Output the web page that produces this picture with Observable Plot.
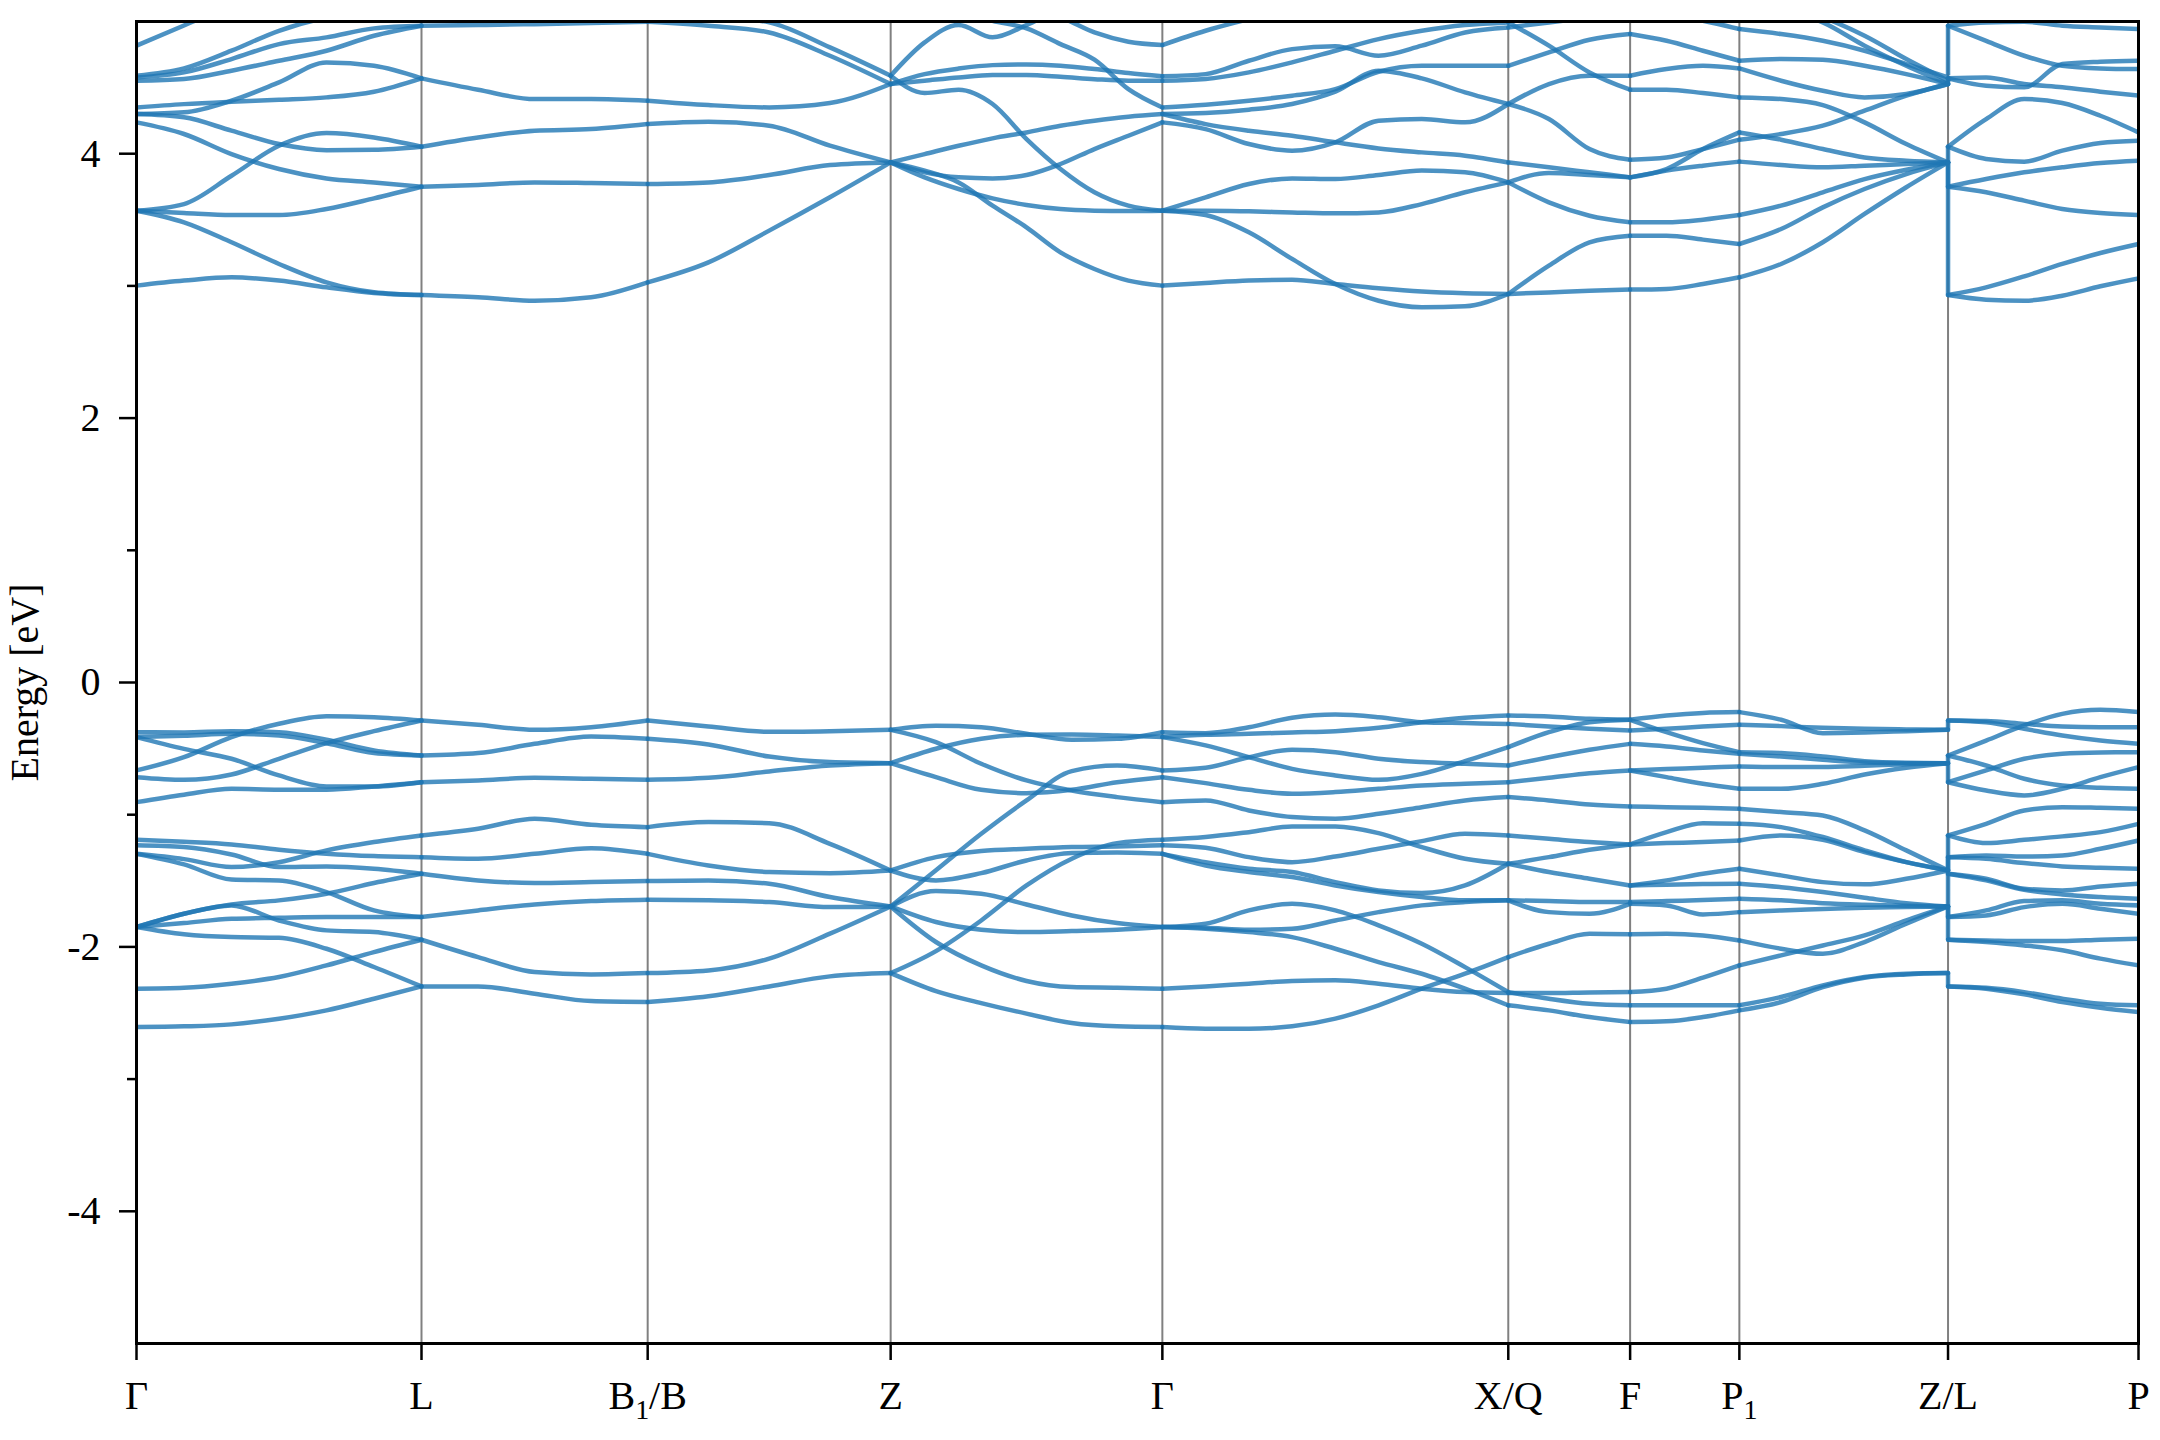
<!DOCTYPE html>
<html>
<head>
<meta charset="utf-8">
<script src="https://cdn.jsdelivr.net/npm/d3@7"></script>
<script src="https://cdn.jsdelivr.net/npm/@observablehq/plot@0.6"></script>
<style>
  html, body { margin: 0; padding: 0; background: #fff; }
  #chart svg { display: block; }
  #chart svg text { font-family: 'Liberation Serif', 'Times New Roman', Times, serif !important; font-variant: normal !important; }
</style>
</head>
<body>
<div id="chart"></div>
<script>
// High-symmetry points of the k-path (path distance) and their labels
const kLabels = ["Γ", "L", "B_1/B", "Z", "Γ", "X/Q", "F", "P_1", "Z/L", "P"];
const kTicks = [0, 0.407, 0.730, 1.077, 1.465, 1.959, 2.133, 2.289, 2.587, 2.859];
const yMajorTicks = [-4, -2, 0, 2, 4];
const yMinorTicks = [-3, -1, 1, 3];

// Band energies (eV), sampled evenly along each path segment
const bandsGL = [ // Γ → L
  [-0.376,-0.378,-0.368,-0.376,-0.433,-0.514,-0.552],
  [-0.413,-0.403,-0.388,-0.401,-0.459,-0.534,-0.552],
  [-0.413,-0.502,-0.577,-0.703,-0.786,-0.786,-0.754],
  [-0.665,-0.565,-0.413,-0.312,-0.255,-0.262,-0.287],
  [-0.716,-0.736,-0.696,-0.577,-0.459,-0.368,-0.287],
  [-0.905,-0.849,-0.804,-0.811,-0.811,-0.786,-0.754],
  [-1.190,-1.205,-1.225,-1.265,-1.295,-1.313,-1.321],
  [-1.232,-1.245,-1.301,-1.396,-1.391,-1.409,-1.447],
  [-1.296,-1.336,-1.396,-1.359,-1.270,-1.207,-1.157],
  [-1.296,-1.376,-1.490,-1.497,-1.585,-1.724,-1.774],
  [-1.850,-1.749,-1.679,-1.648,-1.598,-1.517,-1.447],
  [-1.850,-1.749,-1.686,-1.800,-1.875,-1.888,-1.946],
  [-1.850,-1.820,-1.787,-1.780,-1.774,-1.774,-1.774],
  [-1.850,-1.905,-1.926,-1.931,-2.014,-2.152,-2.299],
  [-2.316,-2.309,-2.278,-2.228,-2.140,-2.039,-1.946],
  [-2.606,-2.601,-2.586,-2.543,-2.480,-2.392,-2.299],
  [3.002,3.040,3.065,3.040,2.989,2.947,2.931],
  [3.569,3.481,3.330,3.166,3.027,2.952,2.931],
  [3.569,3.551,3.536,3.536,3.582,3.662,3.750],
  [3.569,3.619,3.833,4.060,4.156,4.123,4.053],
  [4.237,4.149,3.997,3.884,3.813,3.783,3.750],
  [4.300,4.275,4.174,4.073,4.027,4.030,4.053],
  [4.350,4.375,4.393,4.408,4.426,4.469,4.570],
  [4.300,4.313,4.401,4.539,4.690,4.665,4.570],
  [4.552,4.565,4.628,4.703,4.779,4.892,4.968],
  [4.577,4.615,4.716,4.829,4.880,4.948,4.968],
  [4.590,4.645,4.779,4.930,5.030,5.080,5.100],
  [4.817,4.970,5.120,5.200,5.250,5.250,5.200]
];
const bandsLB = [ // L → B1/B
  [-0.287,-0.320,-0.358,-0.338,-0.287],
  [-0.552,-0.534,-0.464,-0.408,-0.426],
  [-0.754,-0.741,-0.721,-0.728,-0.736],
  [-1.157,-1.106,-1.031,-1.076,-1.094],
  [-1.321,-1.333,-1.296,-1.253,-1.296],
  [-1.447,-1.497,-1.517,-1.510,-1.502],
  [-1.774,-1.724,-1.679,-1.653,-1.643],
  [-1.946,-2.077,-2.190,-2.208,-2.198],
  [-2.299,-2.299,-2.354,-2.410,-2.417],
  [4.968,4.973,4.980,4.988,4.998],
  [4.570,4.484,4.413,4.413,4.401],
  [4.053,4.123,4.174,4.186,4.224],
  [3.750,3.763,3.783,3.778,3.771],
  [2.931,2.914,2.888,2.914,3.027]
];
const bandsBZ = [ // B1/B → Z
  [-0.287,-0.333,-0.373,-0.368,-0.358],
  [-0.426,-0.469,-0.560,-0.602,-0.610],
  [-0.736,-0.721,-0.673,-0.628,-0.610],
  [-1.094,-1.056,-1.064,-1.220,-1.422],
  [-1.296,-1.384,-1.434,-1.442,-1.422],
  [-1.502,-1.497,-1.522,-1.623,-1.694],
  [-1.643,-1.648,-1.661,-1.699,-1.694],
  [-2.198,-2.178,-2.089,-1.900,-1.694],
  [-2.417,-2.374,-2.299,-2.223,-2.198],
  [4.998,4.968,4.917,4.741,4.527],
  [5.094,5.043,4.993,4.804,4.590],
  [4.401,4.368,4.350,4.383,4.527],
  [4.224,4.242,4.212,4.061,3.934],
  [3.771,3.783,3.839,3.914,3.934],
  [3.027,3.178,3.418,3.670,3.934]
];
const bandsZG = [ // Z → Γ
  [-0.358,-0.327,-0.338,-0.388,-0.433,-0.426,-0.376],
  [-0.358,-0.451,-0.615,-0.741,-0.817,-0.867,-0.905],
  [-0.610,-0.501,-0.426,-0.396,-0.393,-0.401,-0.413],
  [-0.610,-0.716,-0.812,-0.837,-0.812,-0.754,-0.716],
  [-1.694,-1.421,-1.144,-0.892,-0.670,-0.628,-0.665],
  [-1.422,-1.321,-1.275,-1.258,-1.245,-1.240,-1.232],
  [-1.422,-1.497,-1.442,-1.346,-1.290,-1.285,-1.296],
  [-1.694,-1.578,-1.598,-1.679,-1.762,-1.820,-1.850],
  [-1.694,-1.812,-1.870,-1.888,-1.880,-1.870,-1.850],
  [-2.198,-2.032,-1.800,-1.535,-1.333,-1.215,-1.190],
  [-1.694,-1.963,-2.140,-2.258,-2.304,-2.309,-2.316],
  [-2.198,-2.334,-2.425,-2.505,-2.576,-2.601,-2.606],
  [4.590,4.842,4.973,4.880,4.973,5.094,5.144,5.144,5.119],
  [5.195,5.144,5.081,5.006,4.948,4.829,4.711,4.489,4.350],
  [5.245,5.220,5.195,5.144,5.094,5.031,4.917,4.847,4.822],
  [4.527,4.602,4.644,4.670,4.675,4.665,4.640,4.610,4.585],
  [4.527,4.552,4.577,4.595,4.595,4.582,4.564,4.552,4.552],
  [4.590,4.459,4.484,4.376,4.111,3.884,3.708,3.607,3.569],
  [3.934,3.997,4.060,4.116,4.161,4.212,4.250,4.280,4.300],
  [3.934,3.859,3.821,3.813,3.839,3.922,4.035,4.136,4.237],
  [3.934,3.821,3.733,3.662,3.612,3.581,3.569,3.566,3.569],
  [3.934,3.872,3.783,3.607,3.443,3.254,3.128,3.040,3.002]
];
const bandsGX = [ // Γ → X/Q
  [-0.376,-0.383,-0.338,-0.267,-0.242,-0.262,-0.300,-0.307,-0.313],
  [-0.413,-0.396,-0.388,-0.378,-0.368,-0.343,-0.300,-0.267,-0.250],
  [-0.413,-0.476,-0.565,-0.653,-0.703,-0.736,-0.691,-0.595,-0.489],
  [-0.665,-0.645,-0.565,-0.509,-0.527,-0.577,-0.602,-0.615,-0.628],
  [-0.716,-0.761,-0.812,-0.842,-0.829,-0.804,-0.779,-0.766,-0.754],
  [-0.905,-0.892,-0.968,-1.018,-1.031,-0.993,-0.943,-0.892,-0.867],
  [-1.190,-1.169,-1.132,-1.089,-1.089,-1.139,-1.245,-1.333,-1.371],
  [-1.232,-1.250,-1.321,-1.359,-1.316,-1.258,-1.200,-1.144,-1.157],
  [-1.296,-1.359,-1.409,-1.434,-1.510,-1.573,-1.593,-1.535,-1.371],
  [-1.296,-1.384,-1.434,-1.472,-1.535,-1.585,-1.623,-1.648,-1.648],
  [-1.850,-1.855,-1.870,-1.863,-1.800,-1.737,-1.686,-1.661,-1.648],
  [-1.850,-1.825,-1.724,-1.674,-1.724,-1.837,-1.976,-2.153,-2.342],
  [-1.850,-1.863,-1.888,-1.926,-2.014,-2.115,-2.203,-2.316,-2.442],
  [-2.316,-2.299,-2.278,-2.258,-2.253,-2.278,-2.316,-2.342,-2.349],
  [-2.606,-2.619,-2.619,-2.601,-2.543,-2.442,-2.316,-2.203,-2.077],
  [4.822,4.930,5.018,5.094,5.144,5.170,5.170,5.144,5.119],
  [4.585,4.602,4.703,4.791,4.812,4.741,4.817,4.917,4.955],
  [4.552,4.565,4.615,4.691,4.779,4.867,4.930,4.973,4.993],
  [4.350,4.371,4.401,4.439,4.489,4.620,4.665,4.665,4.665],
  [4.300,4.308,4.333,4.376,4.469,4.628,4.570,4.464,4.376],
  [4.237,4.186,4.073,4.023,4.086,4.250,4.262,4.237,4.376],
  [4.300,4.224,4.174,4.136,4.086,4.040,4.010,3.985,3.934],
  [3.569,3.569,3.564,3.556,3.549,3.556,3.619,3.708,3.783],
  [3.569,3.670,3.771,3.813,3.808,3.839,3.872,3.859,3.783],
  [3.002,3.022,3.040,3.047,3.014,2.982,2.957,2.944,2.939],
  [3.569,3.536,3.405,3.204,3.014,2.888,2.838,2.846,2.939]
];
const bandsXF = [ // X/Q → F
  [-0.250,-0.257,-0.275,-0.282],
  [-0.313,-0.333,-0.350,-0.363],
  [-0.489,-0.376,-0.300,-0.282],
  [-0.628,-0.565,-0.509,-0.464],
  [-0.754,-0.721,-0.686,-0.665],
  [-0.867,-0.892,-0.923,-0.938],
  [-1.157,-1.182,-1.207,-1.225],
  [-1.371,-1.321,-1.265,-1.225],
  [-1.371,-1.434,-1.485,-1.535],
  [-1.648,-1.653,-1.661,-1.661],
  [-1.648,-1.737,-1.749,-1.674],
  [-2.077,-1.976,-1.900,-1.905],
  [-2.349,-2.349,-2.344,-2.342],
  [-2.342,-2.392,-2.430,-2.442],
  [-2.442,-2.480,-2.531,-2.568],
  [4.665,4.766,4.862,4.905],
  [4.993,4.817,4.615,4.484],
  [4.955,4.993,5.031,5.069],
  [4.376,4.262,4.035,3.955],
  [4.376,4.527,4.590,4.590],
  [3.934,3.897,3.859,3.821],
  [3.783,3.854,3.839,3.821],
  [3.783,3.632,3.531,3.481],
  [2.939,2.951,2.964,2.972],
  [2.939,3.153,3.330,3.380]
];
const bandsFP = [ // F → P1
  [-0.282,-0.250,-0.230,-0.224],
  [-0.282,-0.376,-0.459,-0.527],
  [-0.363,-0.350,-0.333,-0.320],
  [-0.464,-0.484,-0.514,-0.539],
  [-0.665,-0.655,-0.645,-0.635],
  [-0.665,-0.716,-0.766,-0.804],
  [-0.938,-0.943,-0.948,-0.955],
  [-1.225,-1.132,-1.064,-1.069],
  [-1.225,-1.215,-1.207,-1.195],
  [-1.535,-1.497,-1.447,-1.409],
  [-1.535,-1.530,-1.525,-1.522],
  [-1.661,-1.653,-1.646,-1.636],
  [-1.674,-1.686,-1.754,-1.737],
  [-1.905,-1.900,-1.913,-1.951],
  [-2.342,-2.316,-2.233,-2.140],
  [-2.442,-2.442,-2.442,-2.442],
  [-2.568,-2.563,-2.531,-2.480],
  [4.905,4.854,4.779,4.703],
  [4.590,4.640,4.665,4.645],
  [4.484,4.484,4.459,4.426],
  [3.955,3.972,4.035,4.106],
  [3.821,3.884,4.035,4.161],
  [3.821,3.872,3.909,3.940],
  [3.481,3.481,3.501,3.536],
  [3.380,3.380,3.350,3.317],
  [2.972,2.977,3.014,3.065],
  [5.094,5.056,5.006,4.943]
];
const bandsPZ = [ // P1 → Z
  [-0.224,-0.282,-0.383,-0.378,-0.368,-0.358],
  [-0.320,-0.330,-0.343,-0.350,-0.355,-0.358],
  [-0.527,-0.534,-0.560,-0.595,-0.607,-0.610],
  [-0.539,-0.560,-0.585,-0.605,-0.610,-0.610],
  [-0.635,-0.640,-0.640,-0.630,-0.618,-0.610],
  [-0.804,-0.804,-0.766,-0.696,-0.645,-0.610],
  [-0.955,-0.980,-1.006,-1.119,-1.270,-1.422],
  [-1.069,-1.094,-1.169,-1.270,-1.359,-1.422],
  [-1.195,-1.157,-1.190,-1.283,-1.359,-1.422],
  [-1.409,-1.459,-1.510,-1.527,-1.485,-1.422],
  [-1.522,-1.548,-1.585,-1.628,-1.669,-1.694],
  [-1.636,-1.648,-1.669,-1.681,-1.689,-1.694],
  [-1.737,-1.724,-1.714,-1.704,-1.699,-1.694],
  [-1.951,-2.014,-2.052,-1.963,-1.825,-1.694],
  [-2.140,-2.064,-1.989,-1.913,-1.800,-1.694],
  [-2.442,-2.379,-2.291,-2.228,-2.203,-2.198],
  [-2.480,-2.417,-2.304,-2.233,-2.208,-2.198],
  [4.943,4.905,4.854,4.779,4.678,4.577],
  [5.195,5.119,5.031,4.892,4.716,4.552],
  [5.170,5.094,4.993,4.817,4.665,4.527],
  [4.703,4.716,4.711,4.665,4.602,4.527],
  [4.645,4.552,4.476,4.426,4.451,4.527],
  [4.426,4.413,4.368,4.237,4.073,3.934],
  [4.161,4.106,4.035,3.972,3.947,3.934],
  [4.106,4.149,4.212,4.325,4.439,4.527],
  [3.940,3.914,3.897,3.909,3.922,3.934],
  [3.536,3.607,3.708,3.808,3.879,3.934],
  [3.317,3.430,3.594,3.733,3.846,3.934],
  [3.065,3.166,3.330,3.544,3.746,3.934]
];
const bandsLP = [ // L → P (after the Z|L break)
  [-0.287,-0.292,-0.313,-0.333,-0.338,-0.338],
  [-0.287,-0.300,-0.350,-0.401,-0.439,-0.464],
  [-0.552,-0.628,-0.728,-0.779,-0.796,-0.804],
  [-0.552,-0.439,-0.325,-0.237,-0.207,-0.224],
  [-0.754,-0.665,-0.577,-0.539,-0.529,-0.527],
  [-0.754,-0.817,-0.854,-0.804,-0.716,-0.640],
  [-1.157,-1.069,-0.968,-0.943,-0.948,-0.955],
  [-1.157,-1.215,-1.190,-1.164,-1.132,-1.069],
  [-1.321,-1.308,-1.316,-1.308,-1.258,-1.195],
  [-1.321,-1.333,-1.366,-1.391,-1.401,-1.409],
  [-1.447,-1.485,-1.560,-1.573,-1.543,-1.522],
  [-1.447,-1.497,-1.568,-1.603,-1.623,-1.636],
  [-1.774,-1.724,-1.653,-1.648,-1.674,-1.686],
  [-1.774,-1.762,-1.699,-1.674,-1.711,-1.749],
  [-1.946,-1.951,-1.956,-1.956,-1.946,-1.938],
  [-1.946,-1.963,-1.989,-2.026,-2.089,-2.140],
  [-2.299,-2.309,-2.342,-2.392,-2.430,-2.442],
  [-2.299,-2.316,-2.359,-2.417,-2.460,-2.493],
  [4.968,4.854,4.741,4.665,4.645,4.640],
  [4.968,4.993,4.998,4.968,4.955,4.943],
  [4.570,4.577,4.527,4.502,4.469,4.439],
  [4.570,4.514,4.502,4.678,4.696,4.703],
  [4.053,4.262,4.413,4.383,4.287,4.161],
  [4.053,3.960,3.940,4.023,4.081,4.098],
  [3.750,3.808,3.859,3.897,3.929,3.947],
  [3.750,3.708,3.645,3.582,3.551,3.536],
  [2.931,2.989,3.072,3.166,3.249,3.317],
  [2.931,2.896,2.888,2.926,2.997,3.057]
];
// Vertical connectors drawn at the Z|L break: [energy at Z, energy at L]
const zlJumps = [
  [-0.358,-0.287],[-0.610,-0.552],[-0.610,-0.754],[-1.422,-1.157],[-1.422,-1.321],
  [-1.694,-1.447],[-1.694,-1.774],[-1.694,-1.946],[-2.198,-2.299],
  [4.590,4.968],[4.527,4.570],[3.934,4.053],[3.934,3.750],[3.934,2.931]
];

// Build tidy rows for the line mark
const segments = [bandsGL, bandsLB, bandsBZ, bandsZG, bandsGX, bandsXF, bandsFP, bandsPZ, bandsLP];
const rows = [];
segments.forEach((bands, s) => {
  const k0 = kTicks[s], k1 = kTicks[s + 1];
  bands.forEach((energies, b) => {
    const n = energies.length;
    energies.forEach((E, i) => rows.push({k: k0 + (k1 - k0) * i / (n - 1), E, band: `${s}-${b}`}));
  });
});
const jumpRows = zlJumps.map(([a, b]) => ({k: kTicks[8], y1: a, y2: b}));

const BLUE = "#1f77b4";
const FONT = "'Liberation Serif', 'Times New Roman', Times, serif";

const chart = Plot.plot({
  width: 2160,
  height: 1440,
  marginLeft: 136,
  marginRight: 22,
  marginTop: 21,
  marginBottom: 97,
  style: {fontFamily: FONT, fontSize: "40px", background: "#fff", color: "#000", overflow: "visible"},
  x: {domain: [0, kTicks[kTicks.length - 1]]},
  y: {domain: [-5, 5]},
  marks: [
    Plot.ruleX(kTicks.slice(1, -1), {stroke: "#808080", strokeWidth: 2}),
    Plot.line(rows, {x: "k", y: "E", z: "band", stroke: BLUE, strokeOpacity: 0.8, strokeWidth: 4.5, curve: "monotone-x", clip: true}),
    Plot.ruleX(jumpRows, {x: "k", y1: "y1", y2: "y2", stroke: BLUE, strokeOpacity: 0.8, strokeWidth: 4.5, clip: true}),
    Plot.frame({stroke: "#000", strokeWidth: 3}),
    Plot.axisX({ticks: kTicks, tickFormat: d => kLabels[kTicks.indexOf(d)], tickSize: 17, tickPadding: 20, strokeWidth: 2.5, label: null, fontSize: 40, fontFamily: FONT}),
    Plot.axisY({ticks: yMajorTicks, tickFormat: d => String(d), tickSize: 17, tickPadding: 19, strokeWidth: 2.5, label: null, fontSize: 40, fontFamily: FONT, fontVariant: "normal"}),
    Plot.axisY({ticks: yMinorTicks, tickFormat: () => "", tickSize: 9, strokeWidth: 2.5, label: null}),
    Plot.text(["Energy [eV]"], {frameAnchor: "left", dx: -111, rotate: -90, textAnchor: "middle", fontSize: 40, fontFamily: FONT, fill: "#000"})
  ]
});

// Render subscripts (e.g. B_1 → B with subscript 1)
chart.querySelectorAll("text").forEach(t => {
  const s = t.textContent;
  const m = s.match(/^(.*)_(\w)(.*)$/);
  if (!m) return;
  const NS = "http://www.w3.org/2000/svg";
  t.textContent = "";
  const a = document.createElementNS(NS, "tspan"); a.textContent = m[1]; t.appendChild(a);
  const b = document.createElementNS(NS, "tspan"); b.textContent = m[2];
  b.setAttribute("dy", "10"); b.setAttribute("font-size", "28"); t.appendChild(b);
  if (m[3]) {
    const c = document.createElementNS(NS, "tspan"); c.textContent = m[3];
    c.setAttribute("dy", "-10"); t.appendChild(c);
  }
});

document.getElementById("chart").appendChild(chart);
</script>
</body>
</html>
